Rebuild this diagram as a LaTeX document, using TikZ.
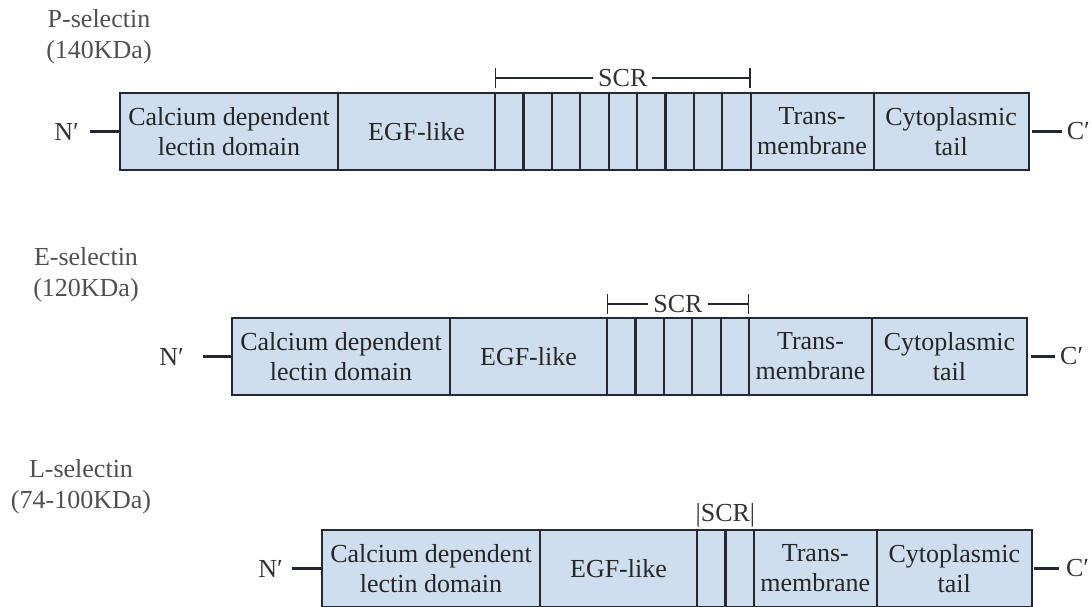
\documentclass[tikz,border=0pt]{standalone}
\usepackage{fontspec}
\setmainfont{Liberation Serif}
\usepackage{tikz}
\usetikzlibrary{arrows.meta,positioning}

\definecolor{domfill}{RGB}{206,222,238}
\definecolor{domline}{RGB}{35,40,50}
\definecolor{labgray}{RGB}{80,80,80}

\begin{document}
\begin{tikzpicture}
			[x=1pt,y=-1pt,node distance=0pt,
			dom/.style={rectangle,draw=domline,fill=domfill,line width=2.2pt,minimum height=77pt,inner sep=0pt,outer sep=0pt,align=center,text=black!85,font=\fontsize{26}{30}\selectfont},
			cal/.style={dom,minimum width=218pt},
			egf/.style={dom,minimum width=157pt},
			scr/.style={dom,minimum width=28.4pt},
			tm/.style={dom,minimum width=123pt},
			cyto/.style={dom,minimum width=155pt},
			term/.style={inner sep=0pt,font=\fontsize{26}{30}\selectfont,text=black!80},
			tie/.style={line width=2.6pt,draw=domline},
			scrspan/.style={line width=1.2pt,draw=domline,{Bar[width=20pt]}-{Bar[width=20pt]}},
			scrtext/.style={fill=white,inner xsep=5pt,inner ysep=1pt,font=\fontsize{26}{30}\selectfont,text=black!80},
			sel/.style={align=center,inner sep=0pt,font=\fontsize{26}{31}\selectfont,text=labgray}]

			\useasboundingbox (0,0) rectangle (1092,606);

			% P-selectin
			\node [sel] (plab) at (99,37) {P-selectin\\(140KDa)};
			\node [cal,anchor=north west] (p-cal) at (120,93) {Calcium dependent\\lectin domain};
			\node [egf,right=of p-cal] (p-egf) {EGF-like};
			\foreach \i [remember=\i as \j (initially egf)] in {1,...,9}
				\node [scr,right=of p-\j] (p-\i) {};
			\node [tm,right=of p-9] (p-tm) {Trans-\\membrane};
			\node [cyto,right=of p-tm] (p-cyto) {Cytoplasmic\\tail};
			\node [term,left=41pt of p-cal] (p-n) {N′};
			\node [term,right=38pt of p-cyto] (p-c) {C′};
			\draw [tie,shorten <=11pt,shorten >=1pt] (p-n) -- (p-cal);
			\draw [tie,shorten <=3pt,shorten >=5pt] (p-cyto) -- (p-c);
			\draw [scrspan] ([yshift=15pt]p-1.north west) -- node[scrtext] {SCR} ([yshift=15pt]p-9.north east);

			% E-selectin
			\node [sel] (elab) at (86,275) {E-selectin\\(120KDa)};
			\node [cal,anchor=north west] (e-cal) at (232,318) {Calcium dependent\\lectin domain};
			\node [egf,right=of e-cal] (e-egf) {EGF-like};
			\foreach \i [remember=\i as \j (initially egf)] in {1,...,5}
				\node [scr,right=of e-\j] (e-\i) {};
			\node [tm,right=of e-5] (e-tm) {Trans-\\membrane};
			\node [cyto,right=of e-tm] (e-cyto) {Cytoplasmic\\tail};
			\node [term,left=48pt of e-cal] (e-n) {N′};
			\node [term,right=33pt of e-cyto] (e-c) {C′};
			\draw [tie,shorten <=19pt,shorten >=1pt] (e-n) -- (e-cal);
			\draw [tie,shorten <=4pt,shorten >=5pt] (e-cyto) -- (e-c);
			\draw [scrspan] ([yshift=14pt]e-1.north west) -- node[scrtext] {SCR} ([yshift=14pt]e-5.north east);

			% L-selectin
			\node [sel] (llab) at (81,487) {L-selectin\\(74-100KDa)};
			\node [cal,anchor=north west] (l-cal) at (322,530) {Calcium dependent\\lectin domain};
			\node [egf,right=of l-cal] (l-egf) {EGF-like};
			\foreach \i [remember=\i as \j (initially egf)] in {1,2}
				\node [scr,right=of l-\j] (l-\i) {};
			\node [tm,right=of l-2] (l-tm) {Trans-\\membrane};
			\node [cyto,right=of l-tm] (l-cyto) {Cytoplasmic\\tail};
			\node [term,left=39pt of l-cal] (l-n) {N′};
			\node [term,right=34pt of l-cyto] (l-c) {C′};
			\draw [tie,shorten <=9pt,shorten >=1pt] (l-n) -- (l-cal);
			\draw [tie,shorten <=2pt,shorten >=7pt] (l-cyto) -- (l-c);
			\node [term,above=3pt of l-1.north east] (l-scr) {|SCR|};

\end{tikzpicture}
\end{document}
